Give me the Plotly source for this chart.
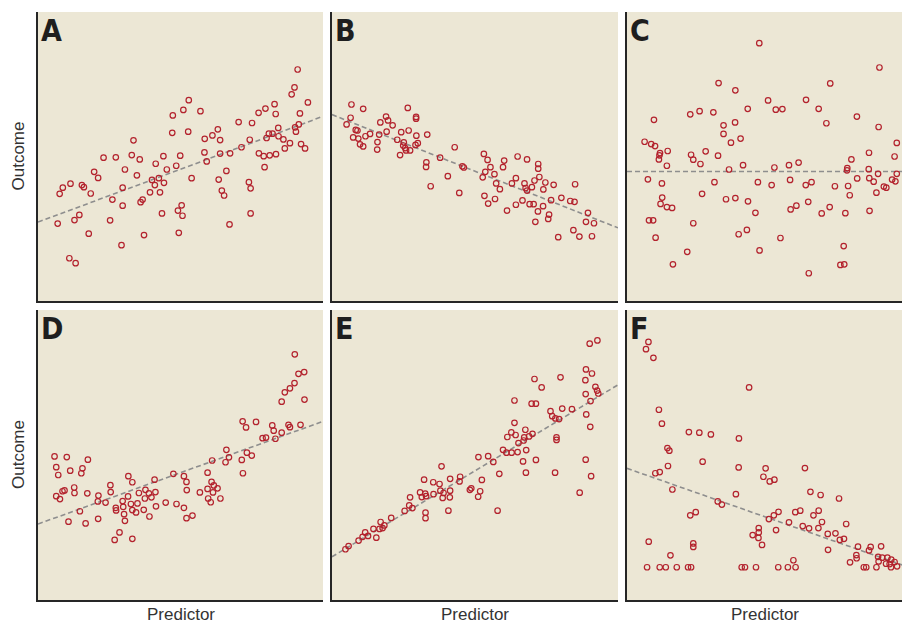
import plotly.graph_objects as go
from plotly.subplots import make_subplots

# ---------------- data (arbitrary units, 0-100 scales) ----------------
A_x = [91.1,90.0,89.0,94.7,52.9,51.0,57.0,47.3,79.8,83.0,77.4,83.4,91.9,70.4,75.1,47.1,52.7,63.1,61.2,58.5,
       63.9,74.3,84.3,90.2,91.5,90.5,81.0,82.3,80.2,84.4,86.1,88.4,92.3,93.7,86.6,33.5,71.4,58.4,63.9,67.4,
       77.5,79.2,81.3,83.5,79.5,23.0,27.3,32.9,35.7,44.0,49.9,59.2,41.3,48.5,30.5,45.2,66.1,19.7,21.1,34.7,
       53.9,40.0,42.4,41.0,44.2,63.4,74.0,74.6,64.5,65.3,11.4,8.7,7.6,15.4,16.1,18.5,29.7,39.3,42.8,26.1,
       36.7,36.0,29.7,50.4,49.1,50.7,43.5,74.6,14.5,12.8,6.9,25.3,67.2,17.8,37.2,49.4,29.3,11.0,13.2]
A_y = [80.1,73.9,71.5,68.7,69.5,66.1,65.7,64.2,66.6,68.1,65.1,64.7,64.9,61.9,61.6,58.2,58.6,59.4,57.3,56.1,
       55.7,55.8,59.9,60.1,61.1,58.6,57.9,57.9,56.4,57.0,55.9,54.6,54.3,52.8,52.8,55.6,53.2,51.4,51.0,51.1,
       51.1,50.1,50.4,50.8,46.3,49.6,49.7,50.5,49.0,50.1,50.3,48.3,47.5,46.8,45.5,45.5,45.0,44.7,42.6,43.5,
       42.5,41.9,42.5,40.1,40.9,42.0,41.1,39.0,38.2,36.5,40.6,39.2,37.1,40.1,39.4,37.2,39.2,37.6,37.6,35.1,
       35.1,34.2,33.0,33.1,31.3,29.5,30.3,30.3,29.8,28.0,26.8,27.9,26.5,23.3,22.8,23.6,19.3,14.8,13.1]

B_x = [6.8,6.5,5.1,10.9,8.3,8.9,7.4,9.2,11.7,13.3,9.8,10.9,15.9,15.8,16.5,16.9,18.9,19.6,19.1,21.2,
       24.2,22.8,25.1,24.9,25.6,25.9,27.3,23.8,26.8,29.4,29.4,26.5,29.5,29.2,30.0,33.3,33.0,32.9,34.5,37.8,
       40.5,42.9,44.5,45.6,46.1,53.1,54.4,55.4,53.6,52.7,56.8,57.4,58.7,59.8,60.2,53.3,54.6,57.0,61.2,62.9,
       64.3,64.9,68.2,67.3,67.7,68.2,69.9,70.8,72.1,72.1,72.5,74.6,73.9,77.5,66.6,64.3,69.1,70.5,72.0,73.8,
       76.6,75.9,75.6,71.1,80.2,83.3,84.8,85.0,89.5,88.8,91.6,84.4,86.5,90.9,79.1]
B_y = [68.0,63.4,61.1,66.5,59.2,59.0,56.6,56.2,57.0,57.8,54.2,53.5,55.0,52.4,57.6,61.8,63.8,62.5,58.6,60.8,
       58.4,55.8,54.9,53.8,52.9,52.1,52.1,50.5,59.0,63.7,63.1,66.8,57.2,54.0,54.6,57.6,48.0,46.4,39.7,49.6,
       43.2,53.2,37.4,46.6,46.2,50.9,48.8,46.3,44.7,42.8,43.9,40.7,38.7,46.3,48.6,36.4,33.7,35.3,31.3,40.7,
       42.5,50.0,49.0,40.7,39.1,38.2,39.4,41.7,47.4,45.8,42.9,41.0,38.6,40.2,34.8,33.3,33.5,33.5,31.0,32.8,
       34.9,29.9,28.4,27.4,35.7,34.6,34.3,40.4,30.5,27.4,26.9,24.5,22.3,22.4,22.1]

C_x = [48.1,91.8,33.3,73.9,39.4,51.3,65.1,43.9,54.1,56.5,69.7,23.0,26.4,31.4,9.8,39.3,72.5,83.6,91.5,35.1,
       35.1,41.3,37.8,6.4,8.8,10.2,14.8,12.0,11.8,11.6,23.3,24.1,28.6,33.1,26.7,14.5,42.2,37.1,53.6,58.9,
       62.4,80.1,80.0,81.6,88.0,97.3,98.1,87.9,91.3,98.1,7.6,12.7,31.8,47.6,52.6,59.3,65.0,67.1,75.6,80.4,
       83.7,88.1,89.7,96.4,97.6,93.4,94.3,90.7,81.0,27.3,12.8,12.2,14.5,16.4,36.0,39.4,44.0,46.7,61.6,59.5,
       65.9,70.8,73.7,79.4,88.2,8.0,9.5,24.1,10.4,43.6,40.6,55.8,78.8,21.9,48.2,16.7,77.6,79.0,66.1]
C_y = [89.2,80.8,75.4,75.3,72.9,69.4,69.6,66.5,66.2,66.4,66.5,64.6,65.7,65.3,62.7,61.8,61.5,63.8,60.2,60.8,
       57.8,56.2,54.8,55.1,54.3,53.6,51.9,51.2,50.4,49.0,50.6,48.9,51.8,50.3,47.4,46.8,47.0,45.5,46.2,47.0,
       47.9,46.0,45.2,49.0,51.3,50.0,54.7,45.6,44.0,44.0,42.1,40.7,41.1,41.1,40.1,41.9,40.1,41.1,39.7,39.8,
       42.4,42.5,41.3,42.0,41.4,39.6,39.2,37.5,36.6,37.1,35.8,33.6,32.5,32.2,35.2,35.6,34.5,30.5,33.0,31.7,
       34.3,30.3,32.5,30.4,31.2,27.9,27.9,26.9,21.9,24.6,23.1,21.8,19.0,17.0,17.5,12.7,12.5,12.7,9.6]

D_x = [90.1,91.4,93.4,90.0,88.4,86.6,85.5,93.5,71.8,73.0,76.5,82.2,82.7,87.9,88.4,92.1,85.5,78.8,80.0,83.3,
       66.1,61.1,65.8,67.0,71.5,73.3,75.0,71.9,5.8,10.1,17.5,6.4,11.3,7.1,15.6,15.2,47.5,51.2,52.1,59.5,
       31.7,33.1,40.9,25.4,12.7,12.8,8.6,9.3,6.4,7.7,17.3,21.2,21.0,23.7,25.5,31.6,35.4,37.7,38.9,41.2,
       37.5,39.8,29.7,32.6,34.9,44.8,48.6,52.2,56.8,60.9,61.7,63.0,59.5,61.4,59.7,60.6,64.0,27.3,27.4,29.9,
       30.2,33.1,34.4,37.1,41.4,51.2,39.1,14.7,21.1,10.7,16.7,30.5,52.1,54.2,28.6,26.9,33.1]
D_y = [84.7,78.0,78.6,74.8,73.0,71.6,68.4,69.1,61.6,59.5,61.4,60.2,58.4,60.4,59.6,60.4,57.7,55.8,56.0,55.6,
       51.8,48.1,47.5,49.2,48.3,50.8,49.8,43.7,49.5,49.3,48.4,45.8,44.6,43.1,45.4,43.7,43.5,42.7,40.7,43.9,
       42.7,40.6,41.5,39.6,38.8,36.9,37.5,37.8,35.8,34.8,36.8,36.0,34.0,33.6,37.2,35.7,36.9,38.0,36.8,37.2,
       35.0,35.4,34.1,33.1,33.3,33.6,33.1,37.9,37.1,40.7,39.5,38.5,38.3,37.1,35.0,33.7,35.0,31.8,30.9,32.1,
       29.6,31.0,30.2,31.1,32.3,31.8,28.8,30.6,28.0,27.0,26.4,27.3,28.2,29.1,23.3,20.7,21.1]

E_x = [92.8,90.1,88.8,90.9,88.6,79.9,70.8,73.3,92.1,92.7,93.1,88.7,90.4,63.8,69.8,71.3,76.4,80.5,83.9,77.0,
       78.1,79.4,88.9,90.3,63.8,67.6,62.7,64.2,61.3,67.2,68.9,70.1,67.0,65.2,78.5,78.5,59.8,61.0,62.8,64.9,
       67.9,51.2,54.6,56.4,66.8,71.3,88.7,38.3,58.5,67.8,78.0,90.6,32.2,35.4,37.6,41.3,44.8,44.6,52.4,86.6,
       30.8,32.6,31.4,32.9,35.5,37.9,39.0,41.3,38.7,41.2,48.7,48.2,51.8,51.1,27.3,27.0,28.1,25.4,32.7,32.7,
       40.7,57.9,20.7,17.0,18.3,17.7,16.6,14.5,11.6,10.7,12.6,15.5,9.3,5.8,4.7]
E_y = [89.5,88.4,79.5,78.1,75.8,76.8,76.2,73.3,73.5,72.2,71.2,71.0,68.6,68.8,67.7,67.7,65.1,66.0,65.8,63.4,
       62.6,62.4,64.0,59.7,61.1,58.7,57.8,56.9,56.2,56.1,56.4,57.3,55.0,54.1,56.1,55.2,51.8,50.8,50.8,51.0,
       51.7,49.3,49.6,47.6,47.8,48.3,48.4,46.1,43.5,43.9,43.9,42.7,41.5,40.6,40.0,41.8,42.5,40.9,41.4,37.0,
       37.1,36.7,35.5,35.8,36.5,37.7,36.9,37.7,35.2,35.4,38.5,38.0,37.5,35.6,35.4,32.6,31.7,30.7,30.1,28.2,
       30.8,30.8,28.3,26.9,25.7,24.8,24.5,24.5,23.3,21.8,22.1,21.5,20.5,18.6,17.5]

F_x = [7.8,6.9,9.6,44.4,11.6,12.7,22.5,26.3,30.5,40.7,14.7,15.4,27.5,14.9,40.6,50.4,64.7,10.3,11.9,49.6,
       51.9,53.6,16.5,66.7,70.4,39.6,77.1,33.0,34.5,55.1,53.4,51.6,61.2,63.0,69.7,67.8,70.9,58.9,63.9,66.2,
       69.6,79.7,73.0,75.8,77.4,78.9,54.2,25.0,23.0,47.9,47.9,45.7,47.8,49.1,73.1,84.0,83.4,83.5,88.6,88.0,
       92.4,91.3,92.8,94.7,91.5,96.1,94.2,95.5,97.3,98.2,96.0,90.7,81.1,86.1,87.0,7.9,24.1,24.1,15.8,60.5,
       7.3,11.9,14.1,18.1,22.2,23.3,41.7,42.9,46.9,55.0,58.5,61.3]
F_y = [89.0,86.5,83.5,73.3,65.6,60.8,57.9,57.7,57.1,55.7,52.4,51.5,47.7,46.2,45.7,45.4,45.5,43.7,44.1,42.5,
       40.9,41.5,38.1,37.3,36.2,36.5,35.0,34.0,32.9,30.4,29.2,27.9,30.3,30.8,30.8,29.2,26.9,26.8,25.5,24.7,
       24.8,26.2,22.8,23.0,20.7,21.1,24.1,30.3,29.2,24.8,23.3,22.4,21.4,19.0,17.3,18.4,15.5,14.4,18.3,17.1,
       18.5,14.9,14.6,14.6,13.3,13.9,12.5,12.4,13.1,11.6,11.3,11.3,13.0,11.3,11.3,20.1,19.5,18.3,15.4,13.7,
       11.3,11.3,11.3,11.3,11.3,11.3,11.3,11.3,11.3,11.3,11.3,11.3]

# fitted (dashed) lines: value at predictor 0 and 100
fit_x = [0, 100]
A_fit = [27.3, 63.9]
B_fit = [64.5, 25.3]
C_fit = [44.8, 44.8]
D_fit = [26.2, 61.6]
E_fit = [14.9, 74.2]
F_fit = [45.4, 12.1]

panel_letters = ["A", "B", "C", "D", "E", "F"]
x_label = "Predictor"
y_label = "Outcome"

panels = [(A_x, A_y, A_fit), (B_x, B_y, B_fit), (C_x, C_y, C_fit),
          (D_x, D_y, D_fit), (E_x, E_y, E_fit), (F_x, F_y, F_fit)]

# ---------------- figure ----------------
W, H = 902, 623
fig = make_subplots(rows=2, cols=3)

col_px = [(38, 323), (332, 618), (627, 902)]
row_px = [(12, 301), (310, 600)]

red = "#B3222D"
for i, (xs, ys, fit) in enumerate(panels):
    r, c = divmod(i, 3)
    fig.add_trace(go.Scatter(x=fit_x, y=fit, mode="lines",
                             line=dict(color="#8E8E8E", width=1.6, dash="5px,3px"),
                             hoverinfo="skip", showlegend=False), row=r + 1, col=c + 1)
    fig.add_trace(go.Scatter(x=xs, y=ys, mode="markers",
                             marker=dict(symbol="circle-open", size=5.5, color=red,
                                         line=dict(width=1.2, color=red)),
                             showlegend=False), row=r + 1, col=c + 1)

for i in range(6):
    r, c = divmod(i, 3)
    n = "" if i == 0 else str(i + 1)
    x0, x1 = col_px[c]
    y0, y1 = row_px[r]
    fig.layout["xaxis" + n].update(domain=[x0 / W, x1 / W], range=[0, 100],
                                   showgrid=False, zeroline=False, showticklabels=False,
                                   ticks="", showline=True, linecolor="#262626", linewidth=2)
    fig.layout["yaxis" + n].update(domain=[1 - y1 / H, 1 - y0 / H], range=[0, 100],
                                   showgrid=False, zeroline=False, showticklabels=False,
                                   ticks="", showline=True, linecolor="#262626", linewidth=2)
    xr = "x" + n
    yr = "y" + n
    fig.add_annotation(text="<b>" + panel_letters[i] + "</b>", xref=xr + " domain", yref=yr + " domain",
                       x=0.004, y=1.003, xanchor="left", yanchor="top", showarrow=False,
                       font=dict(family="Liberation Sans Narrow, DejaVu Sans Condensed, Arial Narrow",
                                 size=30, color="#1E1E1E"))

label_font = dict(family="Liberation Sans, Arial, sans-serif", size=17, color="#333333")
for c in range(3):
    x0, x1 = col_px[c]
    fig.add_annotation(text=x_label, xref="paper", yref="paper", x=(x0 + x1) / 2 / W, y=-3 / H,
                       xanchor="center", yanchor="bottom", showarrow=False, font=label_font)
for r in range(2):
    y0, y1 = row_px[r]
    fig.add_annotation(text=y_label, xref="paper", yref="paper", x=18 / W, y=1 - (y0 + y1) / 2 / H,
                       xanchor="center", yanchor="middle", textangle=-90, showarrow=False, font=label_font)

fig.update_layout(width=W, height=H, margin=dict(l=0, r=0, t=0, b=0),
                  paper_bgcolor="white", plot_bgcolor="#ECE7D5")

# remove the default 8px page margin so the figure fills the window exactly
fig.write_html("out.html", config={"displayModeBar": False},
               post_script="document.body.style.margin='0';document.body.style.overflow='hidden';")
